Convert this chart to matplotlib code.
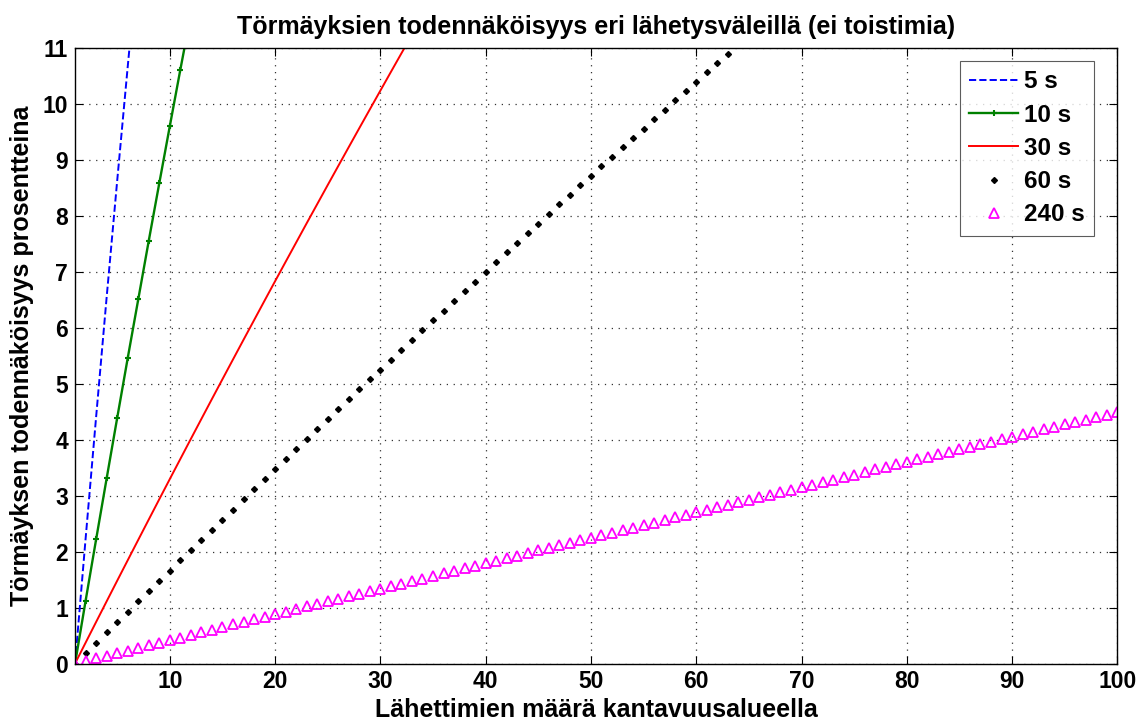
import matplotlib
matplotlib.use("Agg")
import matplotlib.pyplot as plt

# transmitter counts (starting at 1) and collision probability in percent
p_5s = [0.0, 2.23, 4.41, 6.55, 8.63, 10.67, 12.67]
p_10s = [0.0, 1.12, 2.22, 3.31, 4.39, 5.46, 6.51, 7.56, 8.59, 9.61, 10.62, 11.61]
p_30s = [0.0, 0.372, 0.743, 1.112, 1.480, 1.846, 2.211, 2.575, 2.938, 3.299,
         3.658, 4.017, 4.374, 4.730, 5.084, 5.437, 5.789, 6.139, 6.489, 6.837,
         7.183, 7.528, 7.873, 8.215, 8.557, 8.897, 9.236, 9.574, 9.910, 10.245,
         10.579, 10.912, 11.244]
p_60s = [0.0, 0.186, 0.372, 0.557, 0.742, 0.927, 1.111, 1.295, 1.479, 1.662,
         1.845, 2.027, 2.210, 2.392, 2.573, 2.754, 2.935, 3.116, 3.296, 3.476,
         3.656, 3.835, 4.014, 4.192, 4.371, 4.548, 4.726, 4.903, 5.080, 5.257,
         5.433, 5.609, 5.784, 5.960, 6.135, 6.309, 6.484, 6.658, 6.831, 7.005,
         7.178, 7.350, 7.523, 7.695, 7.866, 8.038, 8.209, 8.380, 8.550, 8.720,
         8.890, 9.060, 9.229, 9.398, 9.566, 9.735, 9.903, 10.070, 10.237, 10.405,
         10.571, 10.738, 10.904, 11.070]
p_240s = [0.00, 0.05, 0.09, 0.14, 0.19, 0.23, 0.28, 0.33, 0.37, 0.42,
          0.46, 0.51, 0.56, 0.60, 0.65, 0.70, 0.74, 0.79, 0.83, 0.88,
          0.93, 0.97, 1.02, 1.06, 1.11, 1.16, 1.20, 1.25, 1.29, 1.34,
          1.39, 1.43, 1.48, 1.52, 1.57, 1.61, 1.66, 1.71, 1.75, 1.80,
          1.84, 1.89, 1.93, 1.98, 2.03, 2.07, 2.12, 2.16, 2.21, 2.25,
          2.30, 2.34, 2.39, 2.43, 2.48, 2.52, 2.57, 2.62, 2.66, 2.71,
          2.75, 2.80, 2.84, 2.89, 2.93, 2.98, 3.02, 3.07, 3.11, 3.16,
          3.20, 3.25, 3.29, 3.34, 3.38, 3.43, 3.47, 3.52, 3.56, 3.61,
          3.65, 3.70, 3.74, 3.79, 3.83, 3.87, 3.92, 3.96, 4.01, 4.05,
          4.10, 4.14, 4.19, 4.23, 4.28, 4.32, 4.36, 4.41, 4.45, 4.50]

x_ticks = [10, 20, 30, 40, 50, 60, 70, 80, 90, 100]
y_ticks = list(range(0, 12))


def n_axis(values):
    return list(range(1, len(values) + 1))


plt.rcParams['font.family'] = ['Liberation Sans', 'DejaVu Sans']
plt.rcParams['font.weight'] = 'bold'

fig = plt.figure(figsize=(11.46, 7.22), dpi=100)
ax = fig.add_axes([0.0655, 0.081, 0.9095, 0.852])

ax.plot(n_axis(p_5s), p_5s, '--', color='blue', lw=1.4, label='5 s')
ax.plot(n_axis(p_10s), p_10s, '-', color='green', lw=1.7, marker='+',
        markersize=4, markeredgewidth=1.5, label='10 s')
ax.plot(n_axis(p_30s), p_30s, '-', color='red', lw=1.4, label='30 s')
ax.plot(n_axis(p_60s), p_60s, 'D', color='black', markersize=3.0, lw=0,
        label='60 s')
ax.plot(n_axis(p_240s), p_240s, '^', color='magenta', markerfacecolor='none',
        markersize=6.5, markeredgewidth=1.3, lw=0, label='240 s')

ax.set_xlim(1, 100)
ax.set_ylim(0, 11)
ax.set_xticks(x_ticks)
ax.set_yticks(y_ticks)
ax.grid(True, color='#333333', linestyle=(0, (1, 4.5)), linewidth=0.9)
ax.tick_params(direction='in', top=True, right=True, length=6,
               labelsize=16.5, pad=5)
for s in ax.spines.values():
    s.set_linewidth(1.0)
for lbl in ax.get_xticklabels() + ax.get_yticklabels():
    lbl.set_fontweight('bold')

ax.set_title('Törmäyksien todennäköisyys eri lähetysväleillä (ei toistimia)',
             fontsize=18, fontweight='bold', pad=10)
ax.set_xlabel('Lähettimien määrä kantavuusalueella', fontsize=18,
              fontweight='bold', labelpad=3)
ax.set_ylabel('Törmäyksen todennäköisyys prosentteina', fontsize=18,
              fontweight='bold', labelpad=6)

leg = ax.legend(loc='upper right', fontsize=17.5, frameon=True, fancybox=False,
                edgecolor='#333333', borderpad=0.4, handlelength=2.0,
                handletextpad=0.25, labelspacing=0.42, borderaxespad=0,
                bbox_to_anchor=(0.978, 0.98))
leg.get_frame().set_linewidth(0.8)

fig.savefig('out.png', dpi=100)
